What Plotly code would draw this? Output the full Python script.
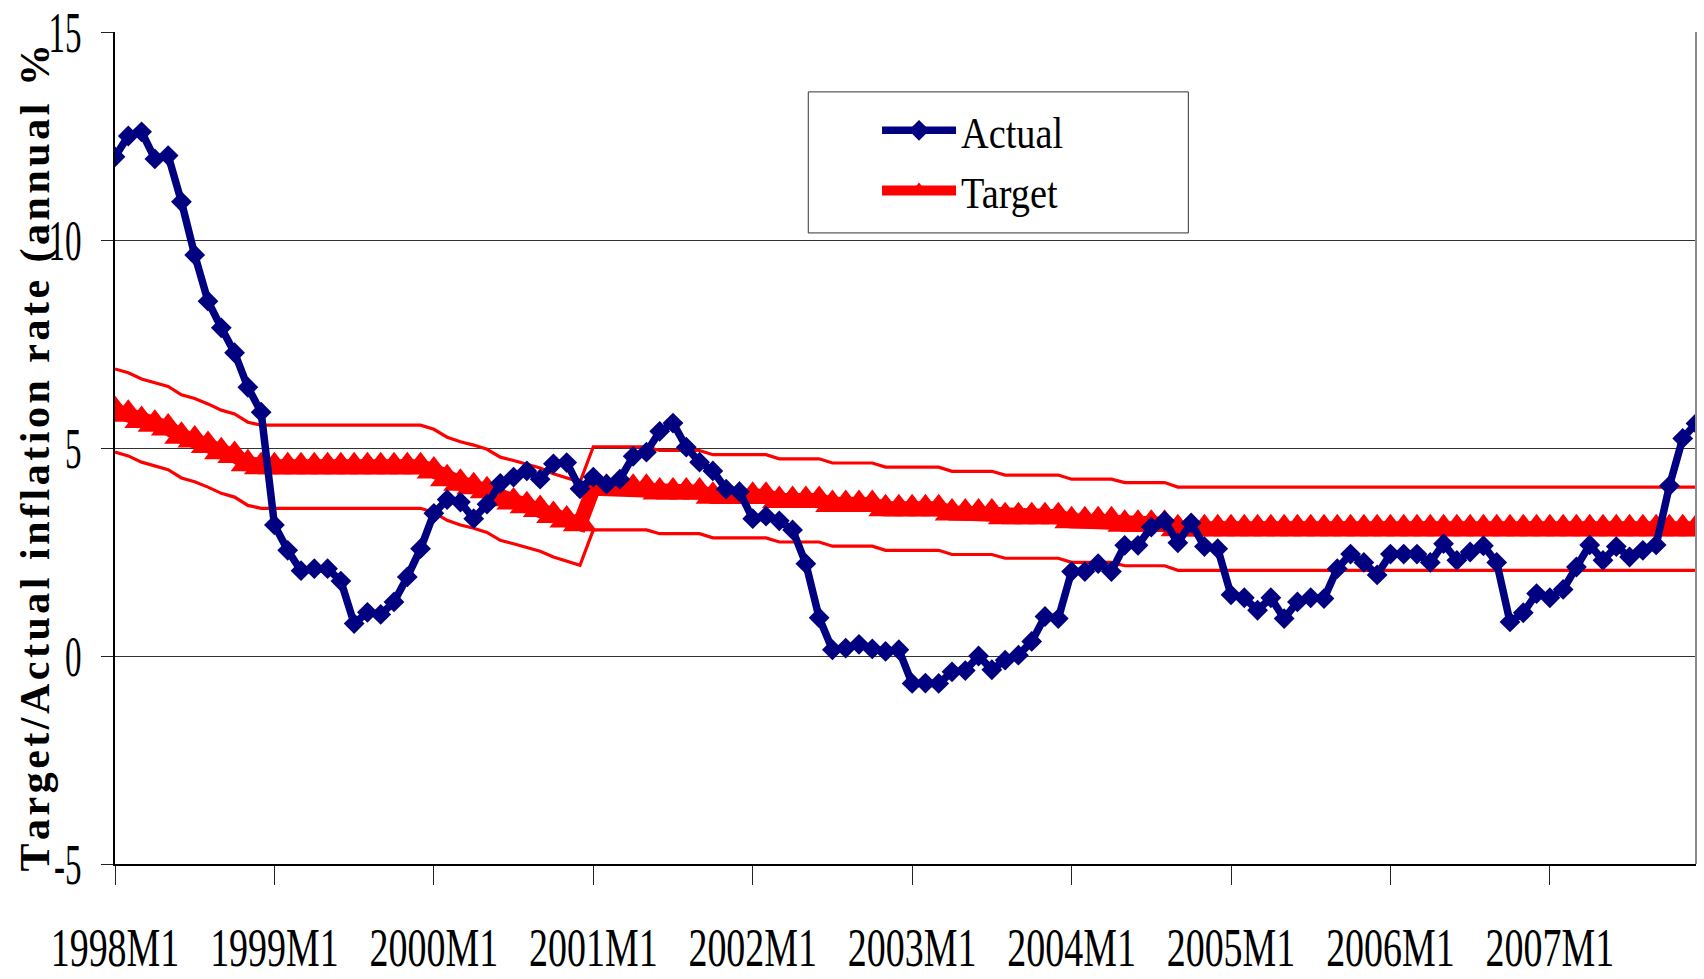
import plotly.graph_objects as go

# Monthly labels 1998M1 .. 2007M12
years = list(range(1998, 2008))
months = [f"{y}M{m}" for y in years for m in range(1, 13)]

# Actual annual inflation rate (%), one list per year
actual_1998 = [12.0, 12.5, 12.6, 11.95, 12.03, 10.92, 9.64, 8.53, 7.89, 7.29, 6.46, 5.86]
actual_1999 = [3.15, 2.54, 2.05, 2.1, 2.1, 1.8, 0.78, 1.05, 1.0, 1.3, 1.9, 2.58]
actual_2000 = [3.43, 3.76, 3.7, 3.3, 3.65, 4.15, 4.3, 4.45, 4.25, 4.62, 4.65, 4.02]
actual_2001 = [4.3, 4.13, 4.25, 4.8, 4.9, 5.4, 5.6, 5.02, 4.66, 4.45, 4.01, 3.95]
actual_2002 = [3.3, 3.36, 3.25, 3.03, 2.22, 0.92, 0.15, 0.19, 0.28, 0.17, 0.11, 0.15]
actual_2003 = [-0.66, -0.65, -0.66, -0.38, -0.35, 0.0, -0.33, -0.1, 0.02, 0.35, 0.95, 0.9]
actual_2004 = [2.03, 2.03, 2.22, 2.03, 2.66, 2.66, 3.1, 3.25, 2.72, 3.2, 2.63, 2.58]
actual_2005 = [1.47, 1.4, 1.1, 1.4, 0.9, 1.3, 1.4, 1.38, 2.1, 2.45, 2.25, 1.95]
actual_2006 = [2.45, 2.45, 2.45, 2.25, 2.7, 2.3, 2.5, 2.65, 2.25, 0.82, 1.04, 1.5]
actual_2007 = [1.4, 1.6, 2.14, 2.67, 2.3, 2.63, 2.38, 2.54, 2.67, 4.09, 5.23, 5.59]

# Inflation target (%), one list per year
target_1998 = [5.9, 5.81, 5.66, 5.57, 5.48, 5.28, 5.19, 5.06, 4.91, 4.82, 4.62, 4.55]
target_1999 = [4.55, 4.55, 4.55, 4.55, 4.55, 4.55, 4.55, 4.55, 4.55, 4.55, 4.55, 4.55]
target_2000 = [4.45, 4.26, 4.15, 4.07, 3.97, 3.78, 3.7, 3.61, 3.52, 3.38, 3.27, 3.18]
target_2001 = [4.03, 4.03, 4.03, 4.03, 4.03, 3.94, 3.94, 3.94, 3.94, 3.84, 3.84, 3.84]
target_2002 = [3.84, 3.84, 3.74, 3.74, 3.74, 3.74, 3.64, 3.64, 3.64, 3.64, 3.54, 3.54]
target_2003 = [3.54, 3.54, 3.54, 3.44, 3.44, 3.44, 3.44, 3.35, 3.35, 3.35, 3.35, 3.35]
target_2004 = [3.25, 3.25, 3.25, 3.25, 3.17, 3.17, 3.17, 3.17, 3.06, 3.06, 3.06, 3.06]
target_2005 = [3.06, 3.06, 3.06, 3.06, 3.06, 3.06, 3.06, 3.06, 3.06, 3.06, 3.06, 3.06]
target_2006 = [3.06, 3.06, 3.06, 3.06, 3.06, 3.06, 3.06, 3.06, 3.06, 3.06, 3.06, 3.06]
target_2007 = [3.06, 3.06, 3.06, 3.06, 3.06, 3.06, 3.06, 3.06, 3.06, 3.06, 3.06, 3.06]

# Tolerance band around the target (percentage points)
band_halfwidth = 1.0

y_tick_values = [-5, 0, 5, 10, 15]
y_tick_labels = ["-5", "0", "5", "10", "15"]
x_tick_labels = [f"{y}M1" for y in years]

actual = (actual_1998 + actual_1999 + actual_2000 + actual_2001 + actual_2002
          + actual_2003 + actual_2004 + actual_2005 + actual_2006 + actual_2007)
target = (target_1998 + target_1999 + target_2000 + target_2001 + target_2002
          + target_2003 + target_2004 + target_2005 + target_2006 + target_2007)
upper = [t + band_halfwidth for t in target]
lower = [t - band_halfwidth for t in target]

NAVY = "#000080"
RED = "#FF0000"
SERIF = "Liberation Serif, Times New Roman, serif"

fig = go.Figure()

for band in (upper, lower):
    fig.add_trace(go.Scatter(
        x=months, y=band, mode="lines",
        line=dict(color=RED, width=3.2),
        showlegend=False, hoverinfo="skip",
    ))

fig.add_trace(go.Scatter(
    x=months, y=target, mode="lines+markers", name="Target",
    line=dict(color=RED, width=15),
    marker=dict(symbol="triangle-up", size=30, color=RED),
    legendrank=2,
))

fig.add_trace(go.Scatter(
    x=months, y=actual, mode="lines+markers", name="Actual",
    line=dict(color=NAVY, width=7.5),
    marker=dict(symbol="diamond", size=16, color=NAVY),
    legendrank=1,
))

# Vertical title, letters spaced out
title_text = "Target/Actual inflation rate (annual %"
spaced_title = "\u200a".join(title_text)

fig.add_annotation(
    text=spaced_title, textangle=-90,
    xref="paper", yref="paper", x=-0.0506, y=-0.012,
    xanchor="center", yanchor="bottom", showarrow=False,
    font=dict(family=SERIF, size=42, color="black", weight="bold"),
)

# Legend frame
fig.add_shape(
    type="rect", xref="paper", yref="paper",
    x0=0.4385, x1=0.6789, y0=0.7585, y1=0.928,
    line=dict(color="#333333", width=1), fillcolor="white", layer="above",
)

# Right edge of the plot area
fig.add_shape(
    type="line", xref="paper", yref="paper",
    x0=1, x1=1, y0=0, y1=1,
    line=dict(color="#8a8a8a", width=2), layer="above",
)

fig.update_xaxes(
    type="category", range=[0, len(months) - 1],
    tickmode="array", tickvals=x_tick_labels, ticktext=x_tick_labels,
    tickangle=0, automargin=False,
    ticks="outside", ticklen=19, tickwidth=1, tickcolor="#222222",
    showline=True, linecolor="black", linewidth=2,
    showgrid=False, zeroline=False,
    tickfont=dict(family=SERIF, size=55, color="black"),
    ticklabelstandoff=15,
)

fig.update_yaxes(
    range=[-5, 15], automargin=False,
    tickmode="array", tickvals=y_tick_values, ticktext=y_tick_labels,
    ticks="outside", ticklen=12, tickwidth=1, tickcolor="#222222",
    showline=True, linecolor="black", linewidth=2,
    showgrid=True, gridcolor="#333333", gridwidth=1,
    zeroline=False,
    tickfont=dict(family=SERIF, size=57, color="black"),
    ticklabelstandoff=8,
)

fig.update_layout(
    width=1704, height=979, autosize=False,
    margin=dict(l=115, r=8, t=32, b=115, autoexpand=False),
    plot_bgcolor="white", paper_bgcolor="white",
    showlegend=True,
    legend=dict(
        x=0.482, y=0.924, xanchor="left", yanchor="top",
        bgcolor="rgba(0,0,0,0)", borderwidth=0,
        font=dict(family=SERIF, size=44, color="black"),
        itemwidth=74, tracegroupgap=0,
    ),
)

# Narrow (condensed) rendering of tick and legend labels: each label is
# scaled horizontally about its own anchor point.
condense_js = """
var gd = document.getElementById('{plot_id}');
function condense(selector, sx) {
  var nodes = gd.querySelectorAll(selector);
  for (var i = 0; i < nodes.length; i++) {
    var t = nodes[i];
    var x0 = parseFloat(t.getAttribute('x')) || 0;
    var tr = t.getAttribute('transform') || '';
    t.setAttribute('transform', tr + ' translate(' + x0 + ',0) scale(' + sx + ',1) translate(' + (-x0) + ',0)');
  }
}
condense('.xtick text', 0.69);
condense('.ytick text', 0.58);
condense('.legendtext', 0.87);
"""

fig.write_html("out.html", post_script=condense_js)
